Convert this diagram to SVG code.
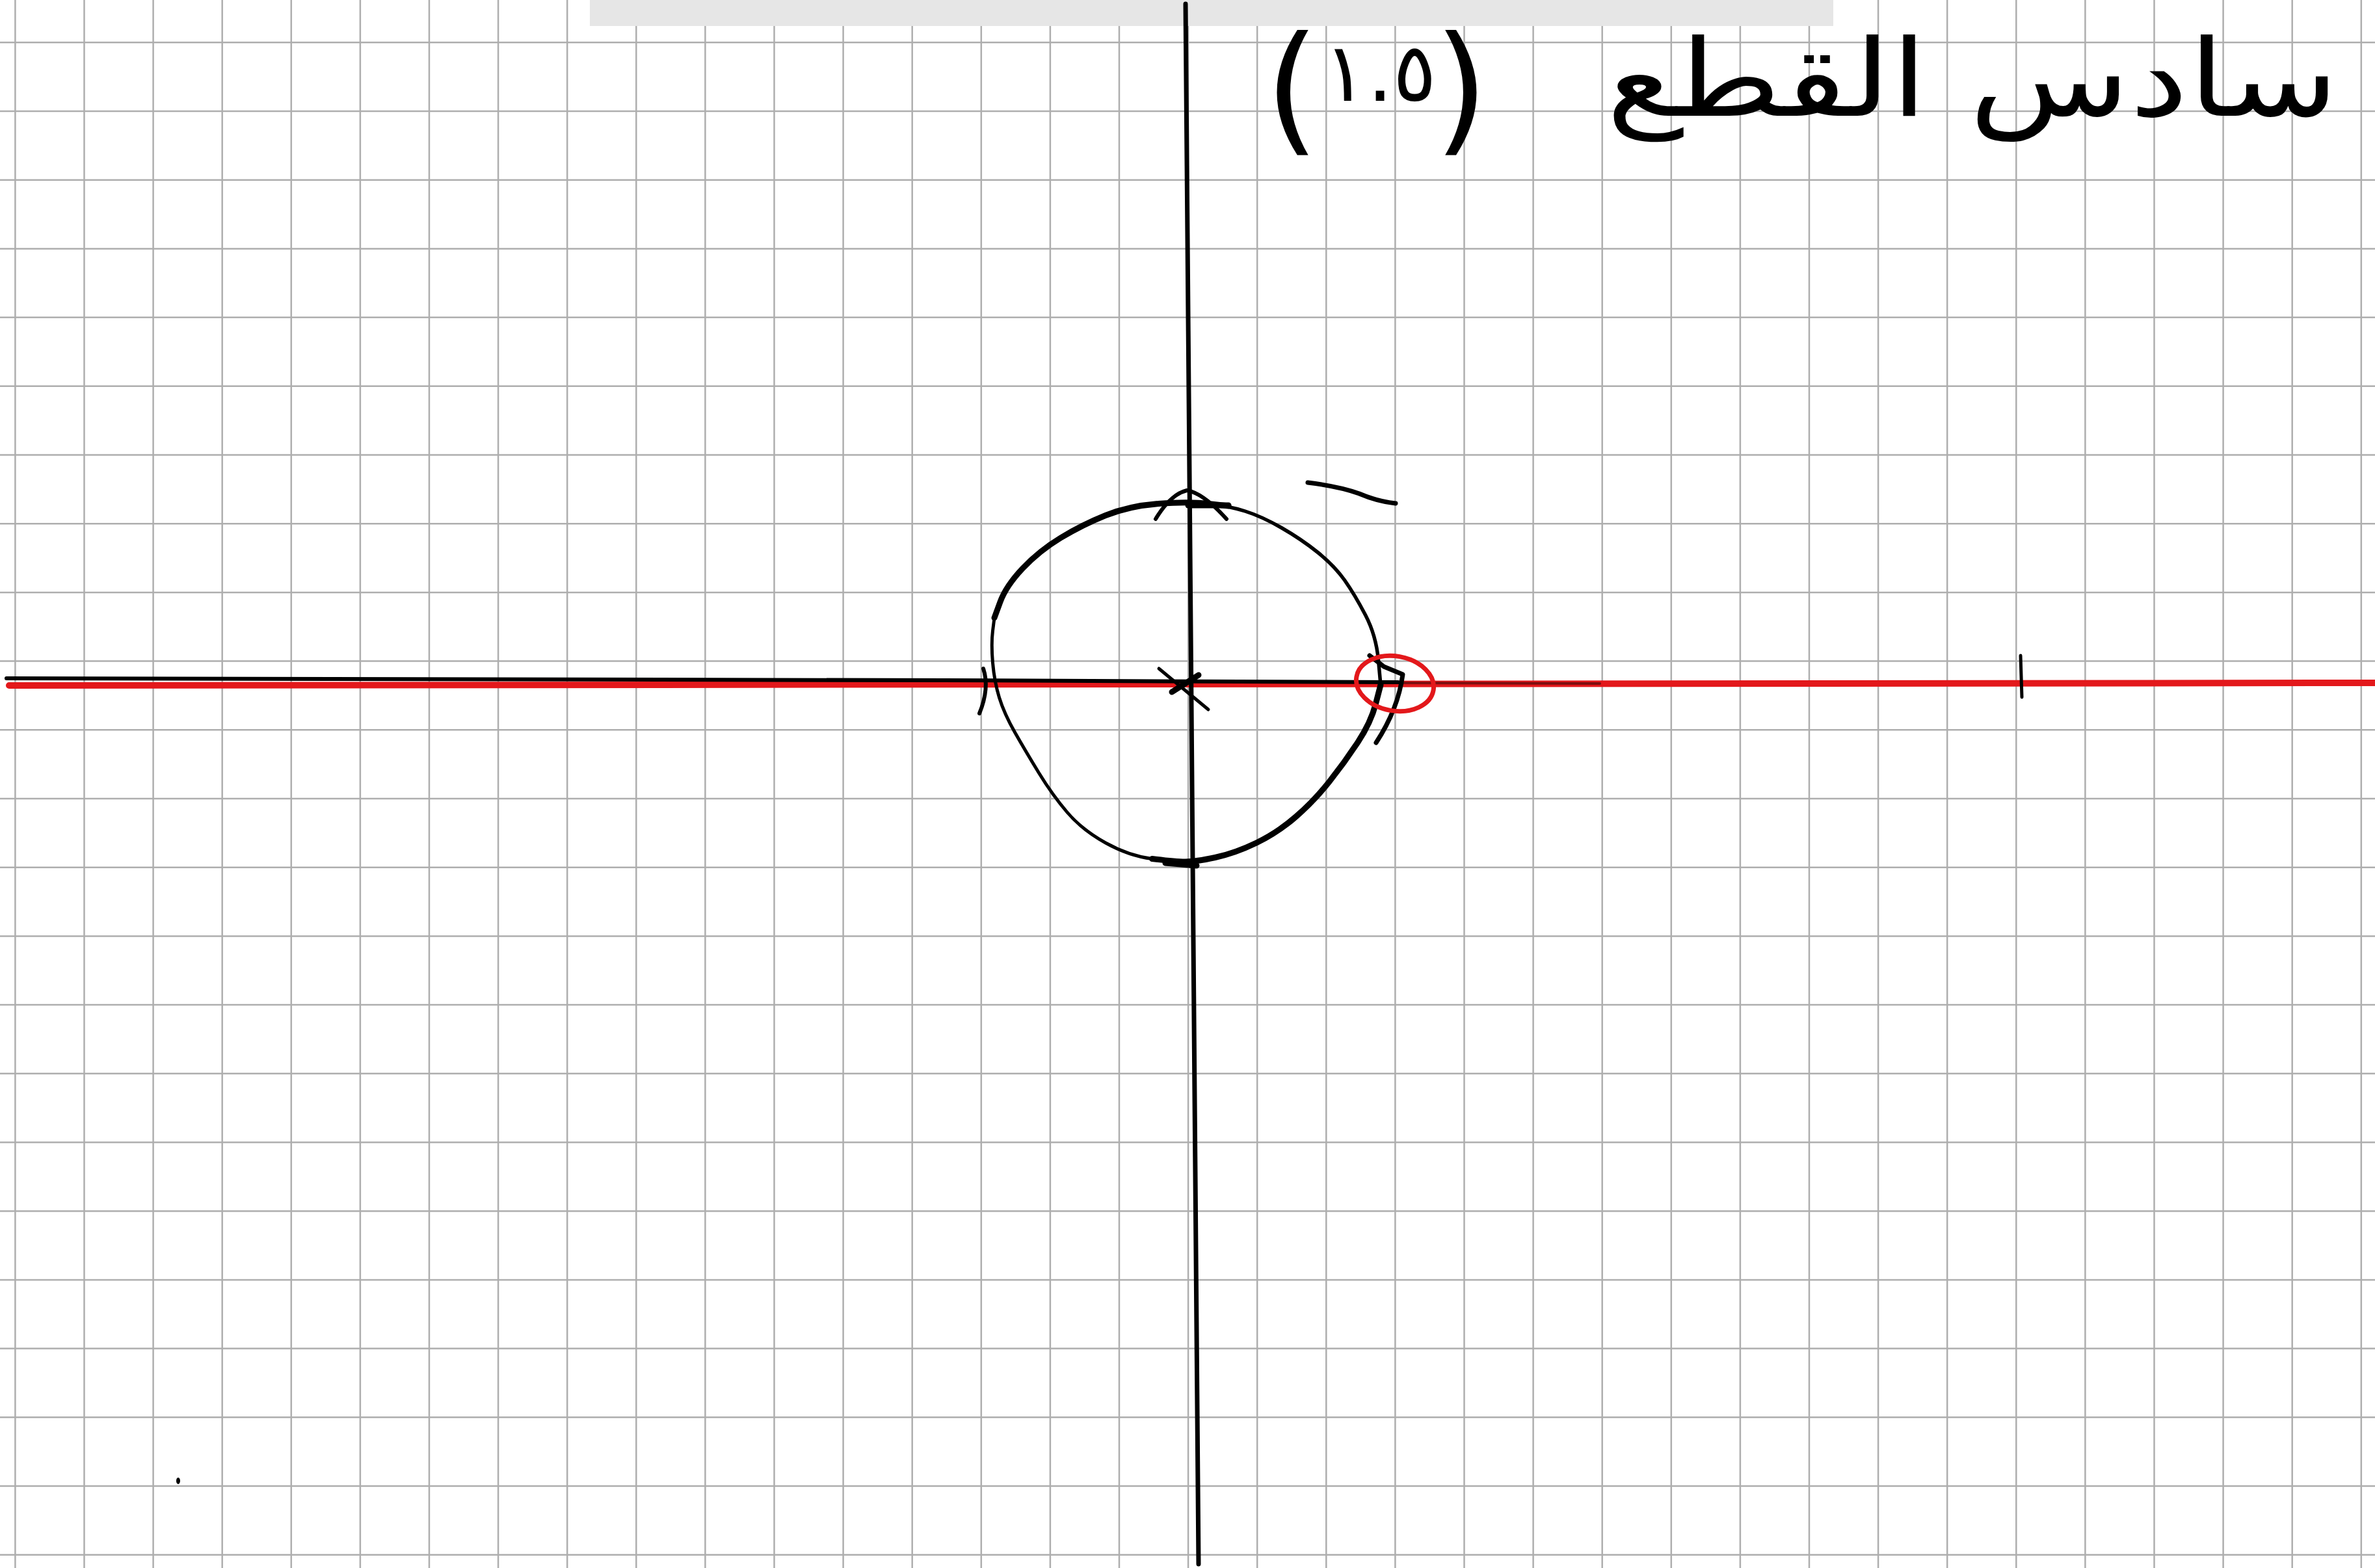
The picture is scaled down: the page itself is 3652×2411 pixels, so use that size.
<svg xmlns="http://www.w3.org/2000/svg" width="3652" height="2411" viewBox="0 0 3652 2411">
<style>
.grid{fill:none;stroke:#aeaeae;stroke-width:2.5}
.ink{fill:none;stroke:#000;stroke-linecap:round;stroke-linejoin:round}
.redink{fill:none;stroke:#e3181b;stroke-linecap:round;stroke-linejoin:round}
.hw{font-family:"DejaVu Sans","Noto Sans",sans-serif;fill:#000}
</style>
<rect x="0" y="0" width="3652" height="2411" fill="#ffffff"/>
<g id="grid">
<path class="grid" d="M23.4,0V2411M129.5,0V2411M235.6,0V2411M341.7,0V2411M447.8,0V2411M553.9,0V2411M660,0V2411M766.1,0V2411M872.2,0V2411M978.3,0V2411M1084.4,0V2411M1190.5,0V2411M1296.6,0V2411M1402.7,0V2411M1508.8,0V2411M1614.9,0V2411M1721,0V2411M1827.1,0V2411M1933.2,0V2411M2039.3,0V2411M2145.4,0V2411M2251.5,0V2411M2357.6,0V2411M2463.7,0V2411M2569.8,0V2411M2675.9,0V2411M2782,0V2411M2888.1,0V2411M2994.2,0V2411M3100.3,0V2411M3206.4,0V2411M3312.5,0V2411M3418.6,0V2411M3524.7,0V2411M3630.8,0V2411"/>
<path class="grid" d="M0,65.3H3652M0,171H3652M0,276.7H3652M0,382.4H3652M0,488.1H3652M0,593.8H3652M0,699.5H3652M0,805.2H3652M0,910.9H3652M0,1016.6H3652M0,1122.3H3652M0,1228H3652M0,1333.7H3652M0,1439.4H3652M0,1545.1H3652M0,1650.8H3652M0,1756.5H3652M0,1862.2H3652M0,1967.9H3652M0,2073.6H3652M0,2179.3H3652M0,2285H3652M0,2390.7H3652"/>
</g>
<rect id="topbar" x="907" y="0" width="1912" height="40" fill="#e6e6e6"/>
<g id="axes">
<path class="redink" stroke-width="10" d="M14,1054 L3652,1050"/>
<path class="ink" stroke-width="6" d="M10,1043 L1450,1046 L2150,1049"/>
<path class="ink" stroke-width="4" stroke-opacity="0.45" d="M2150,1050 L2460,1051"/>
<path class="ink" stroke-width="7" d="M1823,6 L1843,2405"/>
<path class="ink" stroke-width="5" d="M3107,1008 L3109,1072"/>
</g>
<g id="curve">
<path class="ink" stroke-width="9" d="M1889,778 L1858,774.5 Q1827,771 1781.5,774.5 Q1736,778 1700,792.5 Q1664,807 1631,827 Q1598,847 1572.5,874 Q1547,901 1538,925.5 L1529,950"/>
<path class="ink" stroke-width="5" d="M1529,950 L1526.5,970 Q1524,990 1526.5,1019 Q1529,1048 1536.5,1072.5 Q1544,1097 1560.5,1126 Q1577,1155 1597.5,1188.5 Q1618,1222 1641,1249 Q1664,1276 1700,1296 Q1736,1316 1771.5,1320.5 L1807,1325"/>
<path class="ink" stroke-width="9" d="M1771.5,1320.5 Q1807,1325 1822.5,1325 Q1838,1325 1868.5,1318.5 Q1899,1312 1932,1296 Q1965,1280 1993,1255.5 Q2021,1231 2044,1202 Q2067,1173 2087.5,1142 Q2108,1111 2115.5,1082 L2123,1053"/>
<path class="ink" stroke-width="5.5" d="M2123,1053 L2119.5,1015 Q2116,977 2099.5,945.5 Q2083,914 2067.5,892 Q2052,870 2026.5,849.5 Q2001,829 1970.5,811.5 Q1940,794 1914.5,786 Q1889,778 1858,774.5"/>
</g>
<g id="marks">
<path class="ink" stroke-width="6" d="M1777,798 Q1800,760 1825,754 Q1850,758 1886,798"/>
<path class="ink" stroke-width="9" d="M1827,777 L1889,777"/>
<path class="ink" stroke-width="9" d="M1792,1327 L1840,1331"/>
<path class="ink" stroke-width="7" d="M2011,742 Q2060,748 2090,759 Q2118,771 2146,774"/>
<path class="ink" stroke-width="5" d="M1782,1028 L1858,1091"/>
<path class="ink" stroke-width="9" d="M1802,1064 L1843,1038"/>
<path class="ink" stroke-width="6" d="M1512,1028 Q1522,1058 1506,1097"/>
<path class="ink" stroke-width="7" d="M2106,1008 L2128,1025 L2157,1037 Q2150,1090 2116,1142"/>
<ellipse class="redink" stroke-width="7" cx="2145" cy="1051" rx="60" ry="42" transform="rotate(10 2145 1051)"/>
<ellipse cx="274" cy="2277" rx="3" ry="5" fill="#000"/>
</g>
<g id="labels">
<text class="hw" x="2470" y="178" font-size="165" textLength="1126" lengthAdjust="spacingAndGlyphs">سادس القطع</text>
<text class="hw"><tspan x="1945" y="210" font-size="215">(</tspan><tspan x="2035" y="155" font-size="125">١.٥</tspan><tspan x="2205" y="210" font-size="215">)</tspan></text>
</g>
</svg>
